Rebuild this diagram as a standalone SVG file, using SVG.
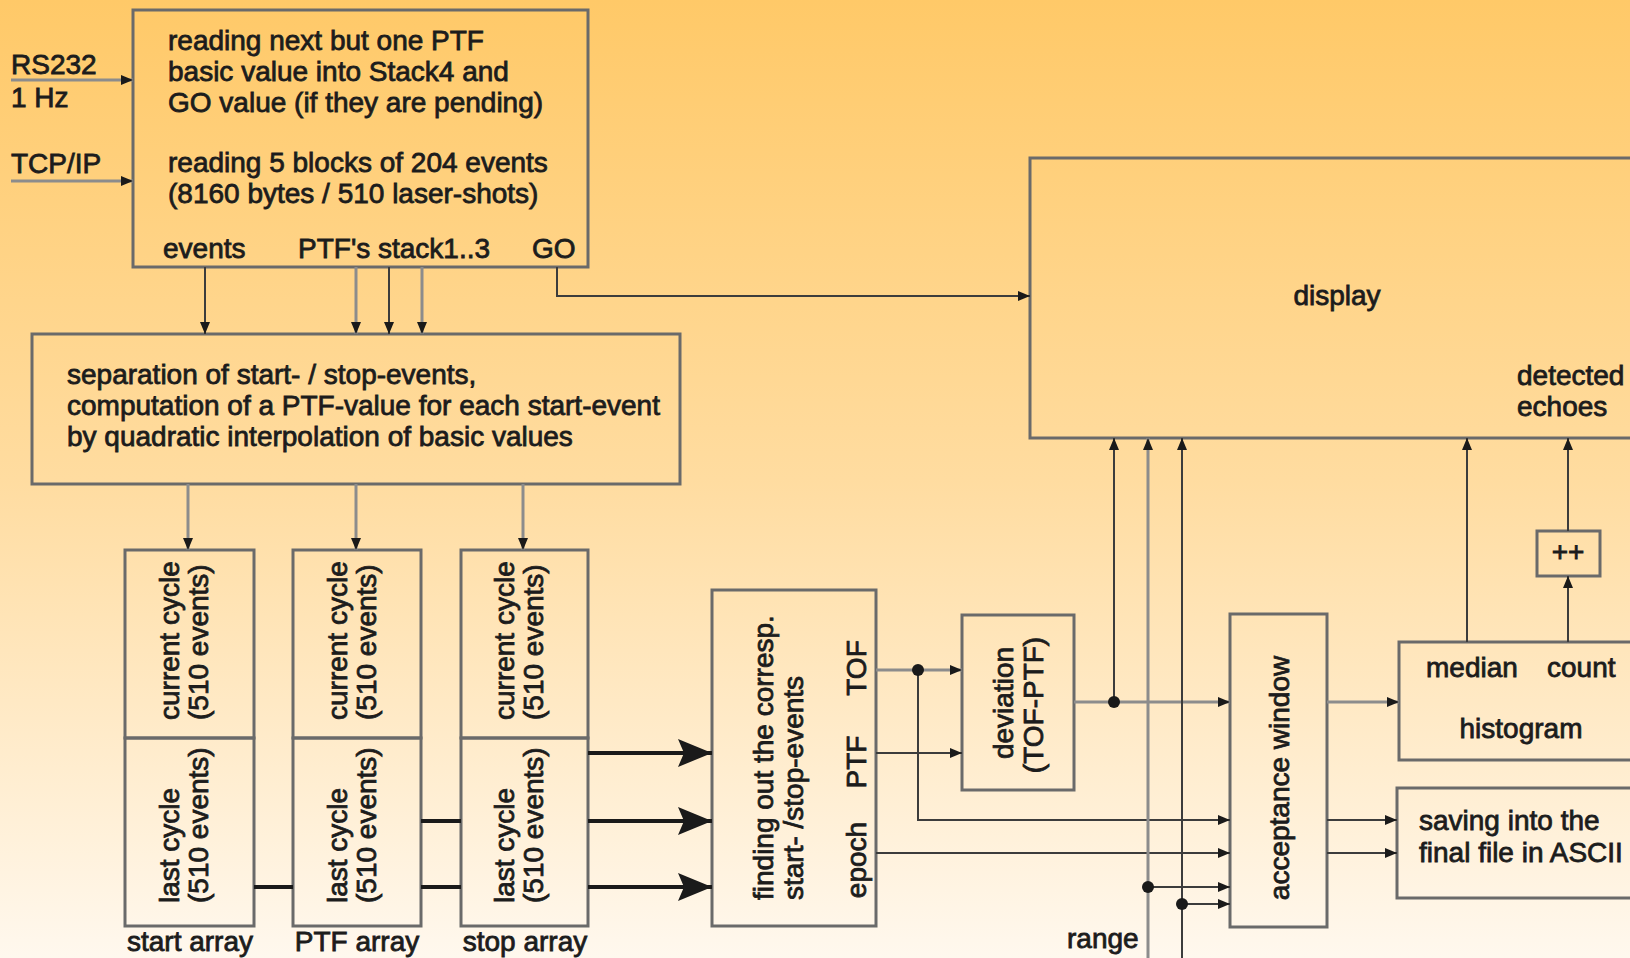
<svg xmlns="http://www.w3.org/2000/svg" width="1630" height="958" viewBox="0 0 1630 958">
<style>
text{font-family:"Liberation Sans",Arial,sans-serif;font-size:28px;fill:#1c1c1c;stroke:#1c1c1c;stroke-width:0.8px}
.box{fill:none;stroke:#6a6a6a;stroke-width:3}
.c{fill:none;stroke:#3c3c3c;stroke-width:2}
.g{fill:none;stroke:#8c8c8c;stroke-width:3}
.t{fill:none;stroke:#1a1a1a;stroke-width:4}
.dot{fill:#1a1a1a}
</style>
<defs>
<linearGradient id="bg" x1="0" y1="0" x2="0" y2="1">
<stop offset="0" stop-color="#ffc968"/>
<stop offset="0.5" stop-color="#ffdca0"/>
<stop offset="1" stop-color="#fff8ee"/>
</linearGradient>
<marker id="a" markerUnits="userSpaceOnUse" markerWidth="12" markerHeight="10" refX="12" refY="5" orient="auto"><path d="M0,0 L12,5 L0,10 z" fill="#1a1a1a"/></marker>
<marker id="b" markerUnits="userSpaceOnUse" markerWidth="34" markerHeight="28" refX="34" refY="14" orient="auto"><path d="M0,0 L34,14 L0,28 L6,14 z" fill="#1a1a1a"/></marker>
</defs>
<rect x="0" y="0" width="1630" height="958" fill="url(#bg)"/>

<g id="inputs">
<text x="11" y="74">RS232</text>
<text x="11" y="107">1 Hz</text>
<text x="11" y="173">TCP/IP</text>
</g>

<g id="reader">
<rect class="box" x="133" y="10" width="455" height="257"/>
<text x="168" y="50">reading next but one PTF</text>
<text x="168" y="81">basic value into Stack4 and</text>
<text x="168" y="112">GO value (if they are pending)</text>
<text x="168" y="172">reading 5 blocks of 204 events</text>
<text x="168" y="203">(8160 bytes / 510 laser-shots)</text>
<text x="163" y="258">events</text>
<text x="298" y="258">PTF's stack1..3</text>
<text x="532" y="258">GO</text>
</g>

<g id="separation">
<rect class="box" x="32" y="334" width="648" height="150"/>
<text x="67" y="384">separation of start- / stop-events,</text>
<text x="67" y="415">computation of a PTF-value for each start-event</text>
<text x="67" y="446">by quadratic interpolation of basic values</text>
</g>

<g id="start-array">
<rect class="box" x="125" y="550" width="129" height="188"/>
<rect class="box" x="125" y="738" width="129" height="188"/>
<text transform="translate(179,720) rotate(-90)">current cycle</text>
<text transform="translate(208,720) rotate(-90)">(510 events)</text>
<text transform="translate(179,903) rotate(-90)">last cycle</text>
<text transform="translate(208,903) rotate(-90)">(510 events)</text>
<text x="190" y="951" text-anchor="middle">start array</text>
</g>

<g id="ptf-array">
<rect class="box" x="293" y="550" width="128" height="188"/>
<rect class="box" x="293" y="738" width="128" height="188"/>
<text transform="translate(347,720) rotate(-90)">current cycle</text>
<text transform="translate(376,720) rotate(-90)">(510 events)</text>
<text transform="translate(347,903) rotate(-90)">last cycle</text>
<text transform="translate(376,903) rotate(-90)">(510 events)</text>
<text x="357" y="951" text-anchor="middle">PTF array</text>
</g>

<g id="stop-array">
<rect class="box" x="461" y="550" width="127" height="188"/>
<rect class="box" x="461" y="738" width="127" height="188"/>
<text transform="translate(514,720) rotate(-90)">current cycle</text>
<text transform="translate(543,720) rotate(-90)">(510 events)</text>
<text transform="translate(514,903) rotate(-90)">last cycle</text>
<text transform="translate(543,903) rotate(-90)">(510 events)</text>
<text x="525" y="951" text-anchor="middle">stop array</text>
</g>

<g id="finding">
<rect class="box" x="712" y="590" width="164" height="336"/>
<text transform="translate(773,900) rotate(-90)">finding out the corresp.</text>
<text transform="translate(803,900) rotate(-90)">start- /stop-events</text>
<text transform="translate(866,668) rotate(-90)" text-anchor="middle">TOF</text>
<text transform="translate(866,762) rotate(-90)" text-anchor="middle">PTF</text>
<text transform="translate(866,860) rotate(-90)" text-anchor="middle">epoch</text>
</g>

<g id="deviation">
<rect class="box" x="962" y="615" width="112" height="175"/>
<text transform="translate(1013,703) rotate(-90)" text-anchor="middle">deviation</text>
<text transform="translate(1043,705) rotate(-90)" text-anchor="middle">(TOF-PTF)</text>
</g>

<g id="acceptance">
<rect class="box" x="1230" y="614" width="97" height="313"/>
<text transform="translate(1289,778) rotate(-90)" text-anchor="middle">acceptance window</text>
</g>

<g id="display">
<rect class="box" x="1030" y="158" width="640" height="280"/>
<text x="1337" y="305" text-anchor="middle">display</text>
<text x="1517" y="385">detected</text>
<text x="1517" y="416">echoes</text>
</g>

<g id="histogram">
<rect class="box" x="1399" y="642" width="260" height="118"/>
<text x="1426" y="677">median</text>
<text x="1547" y="677">count</text>
<text x="1521" y="738" text-anchor="middle">histogram</text>
</g>

<g id="increment">
<rect class="box" x="1537" y="531" width="63" height="45"/>
<text x="1568" y="561" text-anchor="middle">++</text>
</g>

<g id="saving">
<rect class="box" x="1397" y="788" width="260" height="110"/>
<text x="1419" y="830">saving into the</text>
<text x="1419" y="862">final file in ASCII</text>
</g>

<g id="range-label">
<text x="1067" y="948">range</text>
</g>

<g id="connectors">
<path class="g" d="M11,80 H133" marker-end="url(#a)"/>
<path class="g" d="M11,181 H133" marker-end="url(#a)"/>
<path class="c" d="M205,267 V334" marker-end="url(#a)"/>
<path class="g" d="M356,267 V334" marker-end="url(#a)"/>
<path class="c" d="M389,267 V334" marker-end="url(#a)"/>
<path class="g" d="M422,267 V334" marker-end="url(#a)"/>
<path class="c" d="M557,267 V296 H1030" marker-end="url(#a)"/>
<path class="g" d="M188,484 V550" marker-end="url(#a)"/>
<path class="g" d="M356,484 V550" marker-end="url(#a)"/>
<path class="g" d="M523,484 V550" marker-end="url(#a)"/>
<path class="t" d="M254,887 H293"/>
<path class="t" d="M421,821 H461"/>
<path class="t" d="M421,887 H461"/>
<path class="t" d="M588,753 H712" marker-end="url(#b)"/>
<path class="t" d="M588,821 H712" marker-end="url(#b)"/>
<path class="t" d="M588,887 H712" marker-end="url(#b)"/>
<path class="g" d="M876,670 H962" marker-end="url(#a)"/>
<path class="c" d="M918,670 V820 H1230" marker-end="url(#a)"/>
<path class="c" d="M876,753 H962" marker-end="url(#a)"/>
<path class="c" d="M876,853 H1230" marker-end="url(#a)"/>
<path class="g" d="M1074,702 H1230" marker-end="url(#a)"/>
<path class="c" d="M1114,702 V438" marker-end="url(#a)"/>
<path class="g" d="M1148,958 V438" marker-end="url(#a)"/>
<path class="c" d="M1182,958 V438" marker-end="url(#a)"/>
<path class="c" d="M1148,887 H1230" marker-end="url(#a)"/>
<path class="c" d="M1182,904 H1230" marker-end="url(#a)"/>
<path class="g" d="M1327,702 H1399" marker-end="url(#a)"/>
<path class="c" d="M1327,820 H1397" marker-end="url(#a)"/>
<path class="c" d="M1327,853 H1397" marker-end="url(#a)"/>
<path class="c" d="M1467,642 V438" marker-end="url(#a)"/>
<path class="c" d="M1568,642 V576" marker-end="url(#a)"/>
<path class="c" d="M1568,531 V438" marker-end="url(#a)"/>
<circle class="dot" cx="918" cy="670" r="6"/>
<circle class="dot" cx="1114" cy="702" r="6"/>
<circle class="dot" cx="1148" cy="887" r="6"/>
<circle class="dot" cx="1182" cy="904" r="6"/>
</g>
</svg>
